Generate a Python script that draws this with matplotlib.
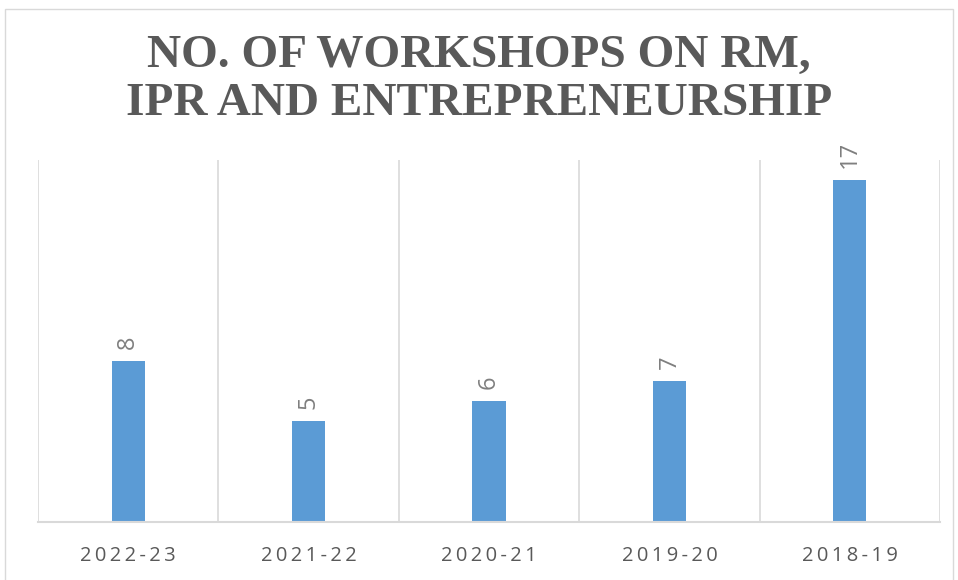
import matplotlib
matplotlib.use("Agg")
import matplotlib.pyplot as plt
from matplotlib.patches import Rectangle

years = ["2022-23", "2021-22", "2020-21", "2019-20", "2018-19"]
workshops = [8, 5, 6, 7, 17]

BAR = "#5B9BD5"
GRID = "#D9D9D9"
TEXT = "#595959"


def spaced(s, gap="\u2009"):
    return gap.join(s)


fig = plt.figure(figsize=(9.58, 5.80), dpi=100)
W, H = 958, 580

# chart border
fig.patches.append(Rectangle((5 / W, -0.01), 948 / W, 1 - 9 / H + 0.01,
                             transform=fig.transFigure, fill=False,
                             edgecolor=GRID, linewidth=1.0))

ax = fig.add_axes([38 / W, 58 / H, 902 / W, 362 / H])
x = list(range(len(years)))
bars = ax.bar(x, workshops, width=0.185, color=BAR, zorder=3)

ax.set_xlim(-0.5, len(years) - 0.5)
ax.set_ylim(0, 18)
ax.set_yticks([])
ax.set_xticks(x)
ax.set_xticklabels([spaced(y) for y in years], fontsize=14.5,
                   family="Open Sans", color=TEXT)
ax.tick_params(axis="x", length=0, pad=17)

# category separators
for b in [i - 0.5 for i in range(len(years) + 1)]:
    ax.axvline(b, color=GRID, linewidth=1.2, zorder=1)

for s in ["top", "left", "right"]:
    ax.spines[s].set_visible(False)
ax.spines["bottom"].set_color(GRID)
ax.spines["bottom"].set_linewidth(1.5)
ax.spines["bottom"].set_zorder(4)

for rect, v in zip(bars, workshops):
    ax.annotate(str(v), (rect.get_x() + rect.get_width() / 2, v),
                xytext=(0, 9), textcoords="offset points",
                ha="center", va="bottom", rotation=90,
                fontsize=17, family="Open Sans", color="#7F7F7F")

fig.text(0.5, 1 - 80 / H, "NO. OF WORKSHOPS ON RM,\nIPR AND ENTREPRENEURSHIP",
         ha="center", va="center", fontsize=34, fontweight="bold",
         family="Liberation Serif", color=TEXT, linespacing=1.2)

fig.savefig("out.png", dpi=100)
